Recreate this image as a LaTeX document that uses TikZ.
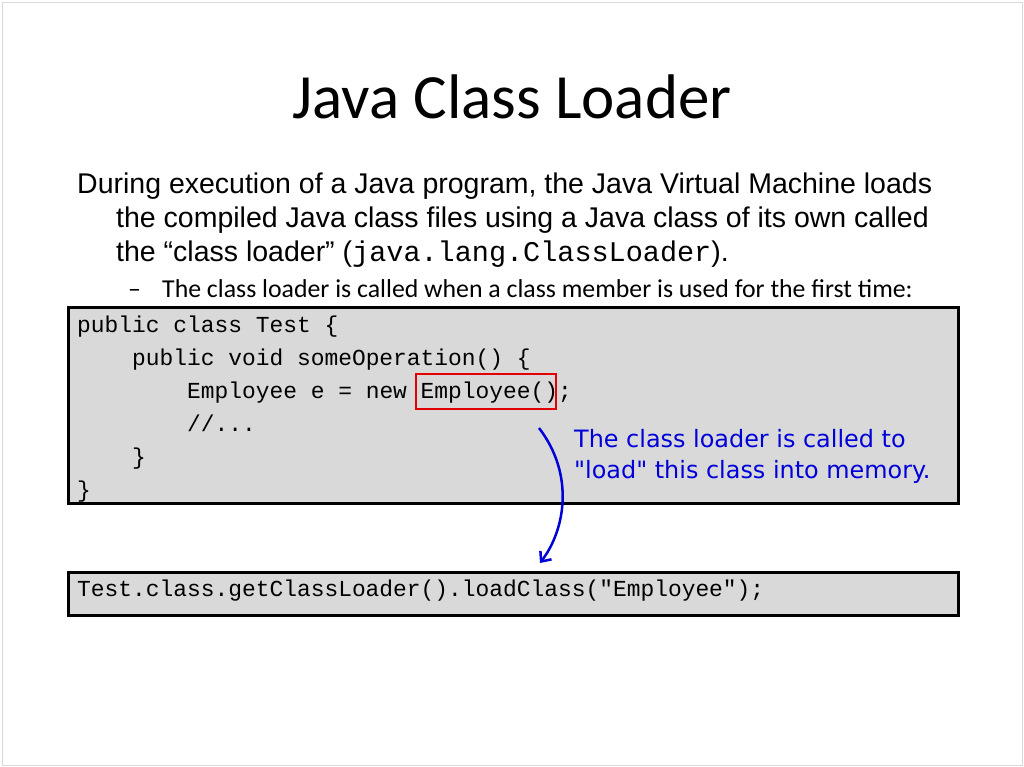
\documentclass[tikz,border=0pt]{standalone}
\usepackage{fontspec}
\usetikzlibrary{arrows.meta}
\setmainfont{Liberation Sans}
\newfontfamily\calfont{Carlito}
\newfontfamily\monofont{Liberation Mono}
\newfontfamily\dvfont{DejaVu Sans}
\tikzset{
 txt/.style={anchor=base west,inner sep=0pt},
 code/.style={txt,font=\monofont\fontsize{22.9}{26}\selectfont},
 codebox/.style={draw=black,line width=2.5pt,fill=black!15},
}
\begin{document}
\begin{tikzpicture}[x=1pt,y=-1pt]
\useasboundingbox (0,0) rectangle (1024,767);
\draw[black!15] (2,2) rectangle (1022,765);
\node[inner sep=0pt,font=\calfont\fontsize{63}{70}\selectfont] (title) at (512,97) {Java Class Loader};
\begin{scope}[font=\fontsize{28.5}{32}\selectfont]
\node[txt] (l1) at (77,194) {During execution of a Java program, the Java Virtual Machine loads};
\node[txt] (l2) at (116,228) {the compiled Java class files using a Java class of its own called};
\node[txt] (l3) at (116,261) {the “class loader” ({\monofont java.lang.ClassLoader}).};
\end{scope}
\node[txt,font=\calfont\fontsize{25.8}{28}\selectfont] (dash) at (128,297) {–};
\node[txt,font=\calfont\fontsize{25.8}{28}\selectfont] (bul) at (162,297) {The class loader is called when a class member is used for the first time:};
\node[codebox,minimum width=890pt,minimum height=196pt,anchor=north west,inner sep=0pt] (box1) at (67,306) {};
\node[codebox,minimum width=890pt,minimum height=43pt,anchor=north west,inner sep=0pt] (box2) at (67,571) {};
\node[code] (c1) at (77,332) {public class Test \{};
\node[code] (c2) at (77,365) {\ \ \ \ public void someOperation() \{};
\node[code] (c3) at (77,398) {\ \ \ \ \ \ \ \ Employee e = new Employee();};
\node[code] (c4) at (77,431) {\ \ \ \ \ \ \ \ //...};
\node[code] (c5) at (77,464) {\ \ \ \ \}};
\node[code] (c6) at (77,497) {\}};
\node[code] (c7) at (77,596) {Test.class.getClassLoader().loadClass("Employee");};
\draw[red!90!black,line width=2pt] (416,374) rectangle (556,409);
\node[txt,text=blue!85!black,font=\dvfont\fontsize{23.9}{27}\selectfont] (n1) at (574,447) {The class loader is called to};
\node[txt,text=blue!85!black,font=\dvfont\fontsize{23.9}{27}\selectfont] (n2) at (574,478) {"load" this class into memory.};
\coordinate (s) at (539,428);
\coordinate (e) at (540,563);
\draw[blue!85!black,line width=2.5pt,-{Straight Barb[length=8pt,width=14pt]}] (s) .. controls (575,475) and (565,530) .. (e);
\end{tikzpicture}
\end{document}
